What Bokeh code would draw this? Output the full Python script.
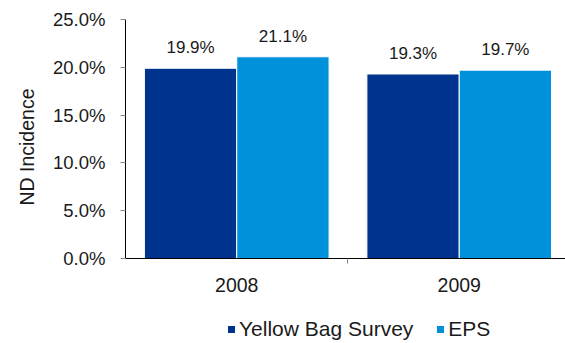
from bokeh.plotting import figure
from bokeh.models import (ColumnDataSource, Range1d, FixedTicker, Legend, LegendItem,
                          LabelSet, Title)
from bokeh.core.properties import value
from bokeh.embed import file_html
from bokeh.resources import INLINE

years = ["2008", "2009"]
series = ["Yellow Bag Survey", "EPS"]
yellow_bag = [19.9, 19.3]
eps = [21.1, 19.7]
colors = ["#00338D", "#0091DA"]
y_ticks = [0, 5, 10, 15, 20, 25]
y_title = "ND Incidence"

FONT = "Liberation Sans"

# frame: 122..565 px wide, 19..343 px tall; value 0 sits at 258 px
px_per_unit = 239 / 25
y_min = -85 / px_per_unit

p = figure(width=565, height=343, output_backend="svg", toolbar_location=None,
           x_range=Range1d(0, 443 / 224), y_range=Range1d(y_min, 25),
           min_border_left=122, min_border_right=0, min_border_top=19, min_border_bottom=0)
p.outline_line_color = None
p.xgrid.visible = False
p.ygrid.visible = False

centers = [i + 0.5 for i in range(len(years))]
bw = 0.415
src1 = ColumnDataSource(dict(x=[c - bw / 2 for c in centers], top=yellow_bag,
                             lab=["%.1f%%" % v for v in yellow_bag]))
src2 = ColumnDataSource(dict(x=[c + bw / 2 for c in centers], top=eps,
                             lab=["%.1f%%" % v for v in eps]))
r1 = p.vbar(x="x", top="top", width=bw, source=src1, fill_color=colors[0],
            line_color="white", line_width=1)
r2 = p.vbar(x="x", top="top", width=bw, source=src2, fill_color=colors[1],
            line_color="white", line_width=1)

for s in (src1, src2):
    p.add_layout(LabelSet(x="x", y="top", text="lab", source=s, text_align="center",
                          text_baseline="bottom", y_offset=11,
                          text_font=value(FONT), text_font_size="17px", text_color="#1a1a1a"))

# y axis
p.yaxis.ticker = FixedTicker(ticks=y_ticks)
p.yaxis.bounds = (0, 25)
p.yaxis.major_label_overrides = {t: "%.1f%%" % t for t in y_ticks}
p.yaxis.major_label_text_font = FONT
p.yaxis.major_label_text_font_size = "18.5px"
p.yaxis.major_label_text_color = "#1a1a1a"
p.yaxis.major_label_standoff = 15
p.yaxis.major_tick_out = 5
p.yaxis.major_tick_in = 0
p.yaxis.minor_tick_line_color = None
p.yaxis.major_tick_line_color = "#888888"
p.yaxis.axis_line_color = "black"

# y axis title, placed beside the 0..25 part of the axis
p.add_layout(Title(text=y_title, align="right", offset=69, standoff=26,
                   text_font=FONT, text_font_size="19.5px", text_font_style="normal",
                   text_color="#1a1a1a"), "left")

# x axis drawn at value 0
p.xaxis.fixed_location = 0
p.xaxis.ticker = FixedTicker(ticks=centers, minor_ticks=[1.0])
p.xaxis.major_label_overrides = {c: y for c, y in zip(centers, years)}
p.xaxis.major_tick_line_color = None
p.xaxis.major_tick_out = 0
p.xaxis.major_tick_in = 0
p.xaxis.minor_tick_out = 5
p.xaxis.minor_tick_in = 0
p.xaxis.minor_tick_line_color = "#888888"
p.xaxis.major_label_text_font = FONT
p.xaxis.major_label_text_font_size = "19.5px"
p.xaxis.major_label_text_color = "#1a1a1a"
p.xaxis.major_label_standoff = 14
p.xaxis.axis_line_color = "black"

legend = Legend(items=[LegendItem(label=series[0], renderers=[r1]),
                       LegendItem(label=series[1], renderers=[r2])],
                orientation="horizontal", location=(101, 2),
                label_text_font=FONT, label_text_font_size="21px",
                label_text_color="#1a1a1a",
                glyph_width=10, glyph_height=10, label_standoff=3, spacing=22,
                border_line_color=None, background_fill_alpha=0, margin=0, padding=2)
p.add_layout(legend, "center")

open("out.html", "w").write(file_html(p, INLINE))
